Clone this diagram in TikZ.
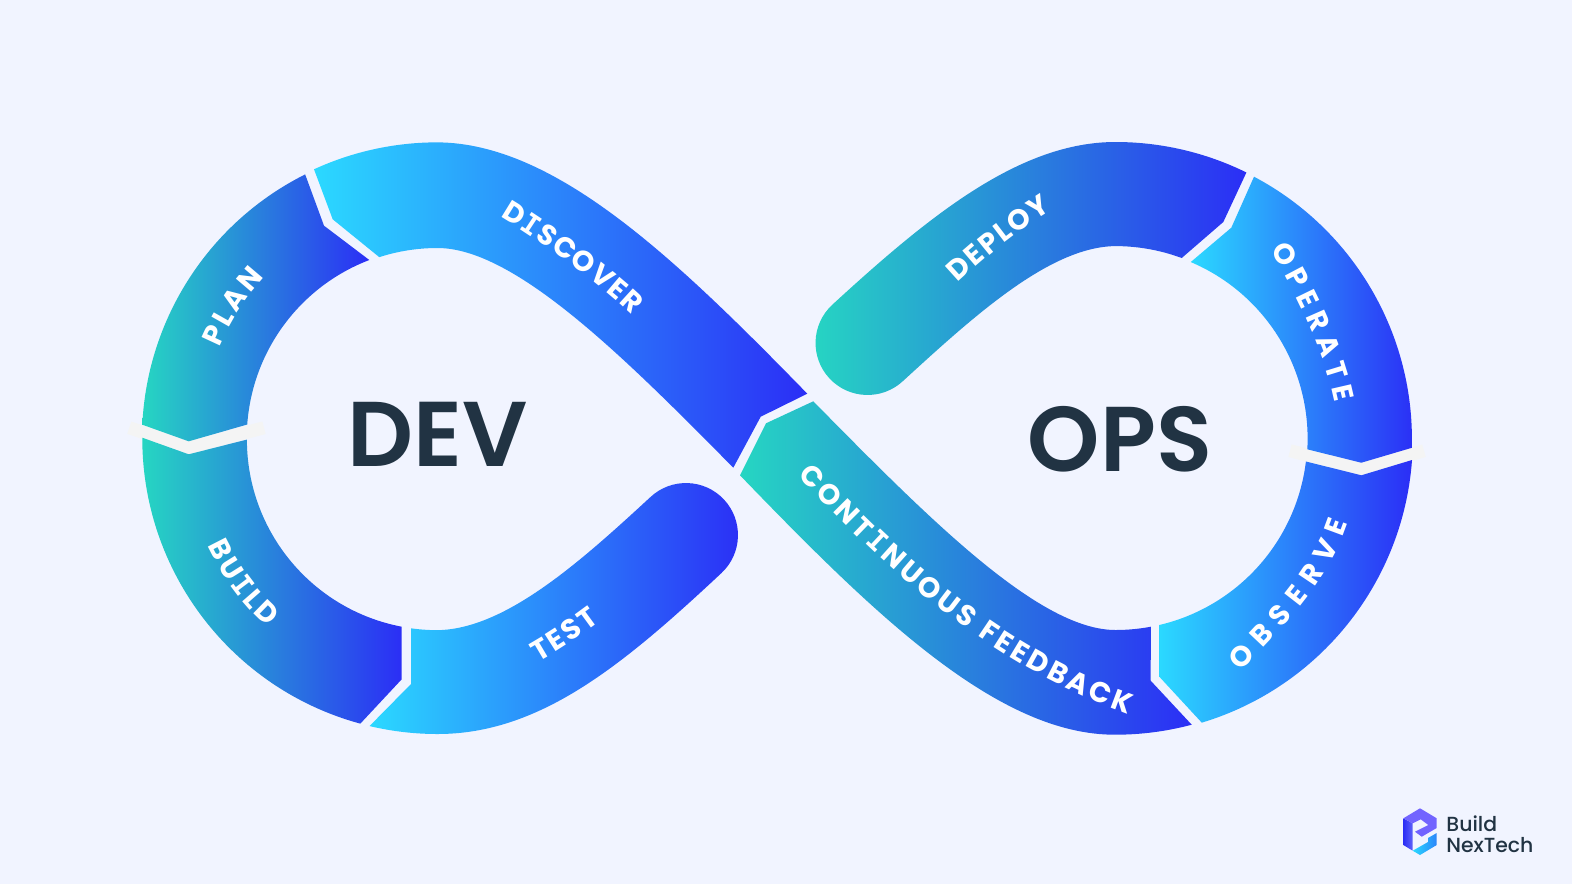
\documentclass[tikz,border=0pt]{standalone}
\usepackage{fontspec}
\usetikzlibrary{decorations.text}
\setmainfont{Poppins}
\newfontfamily\headfont{Poppins SemiBold}
\newfontfamily\logofont{Poppins Medium}
\newfontfamily\slabfont{DejaVu Sans Mono}
\newcommand{\lbl}{\fontsize{14.3}{16}\selectfont\bfseries\color{white}}
\newcommand{\slb}{\slabfont\fontsize{14.3}{16}\selectfont\bfseries\color{white}}
\definecolor{pagebg}{HTML}{F1F4FF}
\definecolor{tealc}{HTML}{26D6C2}
\definecolor{tealmid}{HTML}{2A8FDC}
\definecolor{cyanc}{HTML}{2BD9FF}
\definecolor{cyanmid}{HTML}{2B85FA}
\definecolor{bluec}{HTML}{2B2EF6}
\definecolor{inkc}{HTML}{213343}
\definecolor{chevc}{HTML}{F4F4F4}
\definecolor{logotop}{HTML}{7264FF}
\tikzset{
  tealband/.style={left color=tealc, middle color=tealmid, right color=bluec},
  cyanband/.style={left color=cyanc, middle color=cyanmid, right color=bluec},
  chevron/.style={chevc, line width=6.5pt},
  bandlabel/.style={decorate, decoration={text along path, text align={fit to path}, text={#1}}},
  bigword/.style={inkc, inner sep=0pt, font=\headfont\fontsize{46}{50}\selectfont},
  logoword/.style={inkc, inner sep=0pt, anchor=base west, font=\logofont\fontsize{10.2}{12}\selectfont}
}
\begin{document}
\begin{tikzpicture}[x=0.5pt, y=0.5pt, yscale=-1]
    % Draw the page
    \fill[pagebg] (0,0) rectangle (1572,884);
    \useasboundingbox (0,0) rectangle (1572,884);

    % Draw the chevrons
    \draw[chevron] (129.3,427.7) -- (188.7,447.8) -- (264,427.7);
    \draw[chevron] (1290,450.7) -- (1361.3,469) -- (1424,450.7);

    % Draw the left loop
    % Plan
    \shade[tealband] (142.3,424.7) arc[start angle=182.7, end angle=243.4, radius=295.5]
        -- (324,225.7) -- (369.3,260)
        arc[start angle=249.1, end angle=184.05, radius=190.5]
        -- (188.7,441.3) -- cycle;
    % Build
    \shade[tealband] (142.3,437.7) arc[start angle=180.15, end angle=105.2, radius=295.5]
        -- (401.7,679.3) -- (401.7,626.7)
        arc[start angle=100.8, end angle=180, radius=190.5]
        -- (188.7,454.3) -- cycle;
    % Test
    \shade[cyanband] (411,628.3) arc[start angle=98, end angle=90, radius=190.5]
        .. controls (505,629) and (579,563) .. (650.5,497)
        arc[start angle=227, end angle=407, radius=52]
        .. controls (623,665) and (540,734) .. (437.5,734)
        arc[start angle=90, end angle=103.3, radius=295.5]
        -- (411,684) -- cycle;
    % Discover
    \shade[cyanband] (314,169.3) arc[start angle=245.35, end angle=270, radius=295.5]
        .. controls (555,143) and (675,258) .. (807.3,393.7)
        -- (760.7,416.7) -- (733.3,467.7)
        .. controls (625,358) and (515,248) .. (437.5,248)
        arc[start angle=270, end angle=252.2, radius=190.5]
        -- (332.7,219.3) -- cycle;

    % Draw the right loop
    % Deploy
    \shade[tealband] (832,305) .. controls (930,215) and (1020,142) .. (1115.5,142)
        arc[start angle=-90, end angle=-63.8, radius=296.5]
        -- (1223.3,222) -- (1181.7,258)
        arc[start angle=-69.7, end angle=-90, radius=191.8]
        .. controls (1050,247) and (975,315) .. (903,381)
        arc[start angle=47, end angle=227, radius=52];
    % Operate
    \shade[cyanband] (1254,176.7) arc[start angle=-62.1, end angle=1.7, radius=296.8]
        -- (1361.3,462.7) -- (1307.3,449.3)
        arc[start angle=3.2, end angle=-67, radius=191.8]
        -- (1231.3,227.7) -- cycle;
    % Observe
    \shade[cyanband] (1412,460) arc[start angle=4.15, end angle=73.2, radius=296.8]
        -- (1159.3,676.7) -- (1159.3,625)
        arc[start angle=76.8, end angle=6.95, radius=191.8]
        -- (1361.3,475.3) -- cycle;
    % Feedback
    \shade[tealband] (813.3,401.3) .. controls (932,522) and (1040,630) .. (1115.5,630)
        arc[start angle=90, end angle=79.4, radius=191.8]
        -- (1150.7,680.7) -- (1191.7,724.7)
        arc[start angle=75.1, end angle=90, radius=296.8]
        .. controls (997,735.3) and (872,612) .. (740,475.3)
        -- (766,423.3) -- cycle;

    % Draw the labels
    \path[bandlabel={|\lbl|PLAN}] (219.8,347.4) arc[start angle=202.7, end angle=223, radius=236];
    \path[bandlabel={|\lbl|BU|\slb|I|\lbl|LD}] (207.3,545.8) arc[start angle=155, end angle=132, radius=254];
    \path[bandlabel={|\lbl|TEST}] (538,662) .. controls (559,650) and (580,636) .. (600,621);
    \path[bandlabel={|\lbl|D|\slb|I|\lbl|SCOVER}] (500,216.7) .. controls (525,231) and (590,275) .. (632,315);
    \path[bandlabel={|\lbl|DEPLOY}] (958,283) .. controls (985,258) and (1015,233) .. (1052,210);
    \path[bandlabel={|\lbl|OPERATE}] (1270,249.4) .. controls (1298,297) and (1325,353) .. (1335,403);
    \path[bandlabel={|\lbl|OBSERVE}] (1240,671) .. controls (1276,636) and (1330,580) .. (1348,523);
    \path[bandlabel={|\lbl|CONT|\slb|I|\lbl|NUOUS FEEDBACK}] (798,475) .. controls (880,565) and (990,665) .. (1128,714);

    % Draw the big words
    \node[bigword] (dev) at (438,434) {DEV};
    \node[bigword] (ops) at (1120,439) {OPS};

    % Draw the logo
    \shade[left color=bluec, right color=bluec!75!white] (1403.3,818.3) -- (1412.7,823.3) -- (1412.7,850.7) -- (1403.3,845) -- cycle;
    \fill[logotop] (1403.3,818.3) -- (1420,808.3) -- (1436.7,818.3) -- (1436.7,828) -- (1421.7,836.7) -- (1415,831.7) -- (1428.3,825) -- (1420.7,819.3) -- (1412.7,823.3) -- cycle;
    \shade[left color=cyanc, right color=cyanmid] (1436.7,833) -- (1436.7,845) -- (1420,855) -- (1412.7,850.7) -- (1428,842) -- (1428,838) -- cycle;
    \node[logoword] (build) at (1446,831.7) {Build};
    \node[logoword] (nextech) at (1446,852.3) {NexTech};
\end{tikzpicture}
\end{document}
